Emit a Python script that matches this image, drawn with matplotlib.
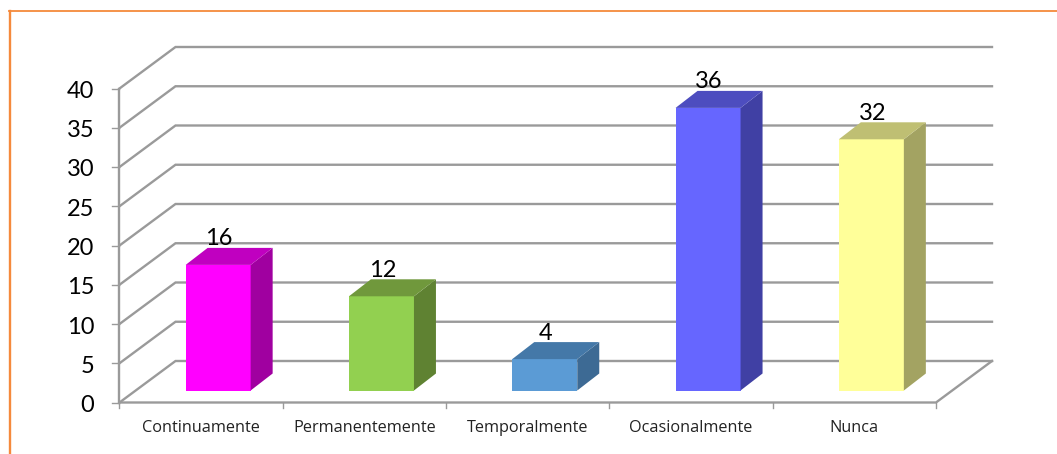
import matplotlib
matplotlib.use("Agg")
import matplotlib.pyplot as plt
from matplotlib.patches import Polygon

categories = ["Continuamente", "Permanentemente", "Temporalmente", "Ocasionalmente", "Nunca"]
values = [16, 12, 4, 36, 32]
yticks = [0, 5, 10, 15, 20, 25, 30, 35, 40]

front_colors = ["#FF00FF", "#92D050", "#5B9BD5", "#6666FF", "#FFFF99"]
side_colors = ["#A000A0", "#5F8232", "#3D6A94", "#4040A4", "#A3A362"]
top_colors = ["#C000C0", "#70983C", "#4478A8", "#4D4DBF", "#BFBF73"]

GRID = "#9A9A9A"
BORDER = "#F58A3C"

# pixels per category and per value unit
CAT_W = 163.3
UNIT_H = 7.85

# fake 3d: how far the back wall is shifted from the front plane
DEPTH_X = 56 / CAT_W
DEPTH_Y = 41.5 / UNIT_H
# where the bar's front face sits, and how deep the bar is
BAR_DX = 17 / CAT_W
BAR_DY = 12 / UNIT_H
BAR_DEPTH_X = 22 / CAT_W
BAR_DEPTH_Y = 17 / UNIT_H
BAR_W = 65 / CAT_W

fig = plt.figure(figsize=(10.57, 4.54), dpi=100)
ax = fig.add_axes([0, 0, 1, 1])
ax.set_xlim(-119.5 / CAT_W, (1057 - 119.5) / CAT_W)
ax.set_ylim(-(454 - 402.5) / UNIT_H, 402.5 / UNIT_H)
ax.axis("off")

n = len(categories)

# walls
for v in yticks:
    ax.plot([0, DEPTH_X, n + DEPTH_X], [v, v + DEPTH_Y, v + DEPTH_Y],
            color=GRID, lw=1.7, solid_joinstyle="miter", zorder=1)
    ax.plot([-7 / CAT_W, 0], [v, v], color=GRID, lw=1.0, zorder=1)
    ax.text(-25 / CAT_W, v - 3 / UNIT_H, str(v), ha="right", va="center", fontsize=17,
            family="Lato", color="black")

# floor and axes
ax.plot([0, 0], [0, yticks[-1]], color=GRID, lw=1.7, zorder=1)
ax.plot([0, n, n + DEPTH_X], [0, 0, DEPTH_Y], color=GRID, lw=1.7,
        solid_joinstyle="miter", zorder=1)
for i in range(n + 1):
    ax.plot([i, i], [0, -5 / UNIT_H], color=GRID, lw=1.0, zorder=1)

# bars
for i, v in enumerate(values):
    x0 = i + 0.5 + BAR_DX - BAR_W / 2
    x1 = x0 + BAR_W
    y0 = BAR_DY
    y1 = v + BAR_DY
    ax.add_patch(Polygon([(x0, y0), (x1, y0), (x1, y1), (x0, y1)],
                         fc=front_colors[i], ec="none", zorder=3))
    ax.add_patch(Polygon([(x1, y0), (x1 + BAR_DEPTH_X, y0 + BAR_DEPTH_Y),
                          (x1 + BAR_DEPTH_X, y1 + BAR_DEPTH_Y), (x1, y1)],
                         fc=side_colors[i], ec="none", zorder=3))
    ax.add_patch(Polygon([(x0, y1), (x1, y1), (x1 + BAR_DEPTH_X, y1 + BAR_DEPTH_Y),
                          (x0 + BAR_DEPTH_X, y1 + BAR_DEPTH_Y)],
                         fc=top_colors[i], ec="none", zorder=3))
    ax.text((x0 + x1) / 2 + 1 / CAT_W, y1 + 26 / UNIT_H, str(v), ha="center", va="center",
            fontsize=17, family="Lato", color="black", zorder=4)
    ax.text(i + 0.5, -25 / UNIT_H, categories[i], ha="center", va="center",
            fontsize=11.7, family="Open Sans", color="#222222")

# orange frame, top and left only
fig.add_artist(plt.Line2D([9.5 / 1057, 9.5 / 1057], [0, 1 - 11 / 454],
                          color=BORDER, lw=1.7))
fig.add_artist(plt.Line2D([9 / 1057, 1], [1 - 11 / 454, 1 - 11 / 454],
                          color=BORDER, lw=1.3))

plt.savefig("out.png", dpi=100)
